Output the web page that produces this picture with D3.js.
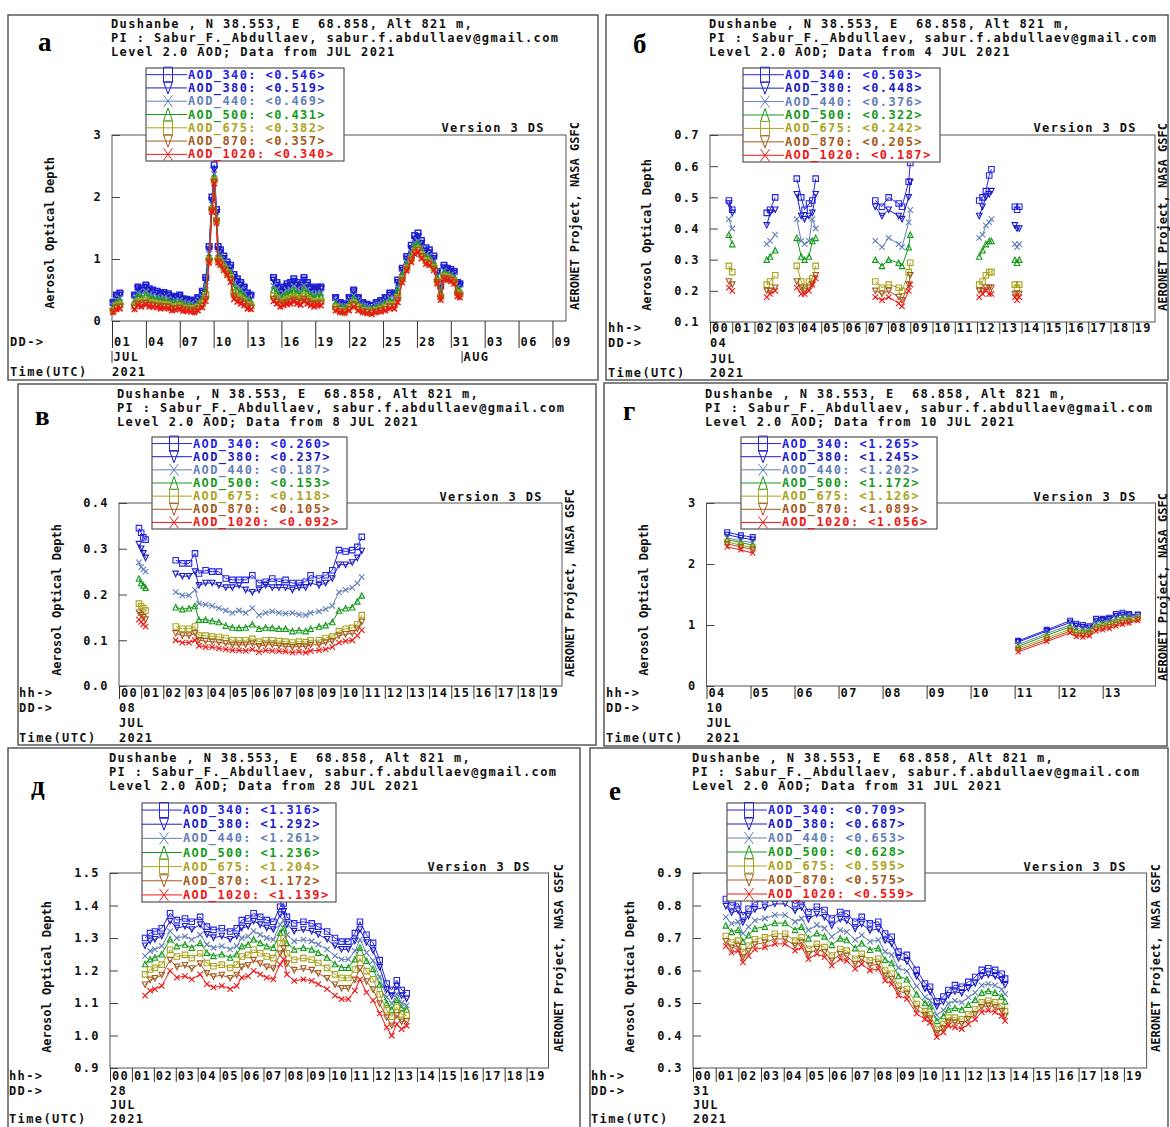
<!DOCTYPE html>
<html><head><meta charset="utf-8">
<script src="https://cdn.jsdelivr.net/npm/d3@7"></script>
<style>
html,body{margin:0;padding:0;background:#fff;}
svg{display:block;}
</style></head><body>
<svg id="c" width="1170" height="1127"></svg>
<script>
// ---------------- DATA ----------------
const WAVES = ["340","380","440","500","675","870","1020"];
const TITLE_1 = "Dushanbe , N 38.553, E  68.858, Alt 821 m,";
const TITLE_2 = "PI : Sabur_F._Abdullaev, sabur.f.abdullaev@gmail.com";
const FROM = ["JUL 2021","4 JUL 2021","8 JUL 2021","10 JUL 2021","28 JUL 2021","31 JUL 2021"];
const DAY_LABEL = [null,"04","08","10","28","31"];

const MEANS_A = ["0.546","0.519","0.469","0.431","0.382","0.357","0.340"];
const MEANS_B = ["0.503","0.448","0.376","0.322","0.242","0.205","0.187"];
const MEANS_V = ["0.260","0.237","0.187","0.153","0.118","0.105","0.092"];
const MEANS_G = ["1.265","1.245","1.202","1.172","1.126","1.089","1.056"];
const MEANS_D = ["1.316","1.292","1.261","1.236","1.204","1.172","1.139"];
const MEANS_E = ["0.709","0.687","0.653","0.628","0.595","0.575","0.559"];

const Y_TICKS_A = [0,1,2,3];
const Y_TICKS_B = [0.1,0.2,0.3,0.4,0.5,0.6,0.7];
const Y_TICKS_V = [0.0,0.1,0.2,0.3,0.4];
const Y_TICKS_G = [0,1,2,3];
const Y_TICKS_D = [0.9,1.0,1.1,1.2,1.3,1.4,1.5];
const Y_TICKS_E = [0.3,0.4,0.5,0.6,0.7,0.8,0.9];

const DAY_TICKS_A = [1,4,7,10,13,16,19,22,25,28,31,34,37,40];
const DAY_LABELS_A = ["01","04","07","10","13","16","19","22","25","28","31","03","06","09"];
const MONTH_POS_A = [1,32];
const MONTH_LABELS_A = ["JUL","AUG"];
const HOURS = [0,1,2,3,4,5,6,7,8,9,10,11,12,13,14,15,16,17,18,19];
const HOUR_LABELS = ["00","01","02","03","04","05","06","07","08","09","10","11","12","13","14","15","16","17","18","19"];
const HOURS_G = [4,5,6,7,8,9,10,11,12,13];
const HOUR_LABELS_G = ["04","05","06","07","08","09","10","11","12","13"];

// Panel а : July 2021 (day of month)
const A_T = [1.1,1.4,1.7,
 3.0,3.3,3.6,4.0,4.3,4.6,5.0,5.3,5.6,6.0,6.3,6.6,7.0,7.3,7.6,8.0,8.3,8.6,9.0,9.3,
 9.6,9.85,10.05,10.25,10.4,10.6,10.9,11.2,11.5,11.8,12.1,12.4,12.7,13.0,13.3,
 15.3,15.6,15.9,16.2,16.5,16.8,17.1,17.4,17.7,18.0,18.3,18.6,18.9,19.2,19.5,
 20.8,21.2,21.6,22.0,22.4,22.8,23.2,23.6,24.0,24.4,24.8,25.2,25.6,26.0,26.3,26.7,27.1,27.5,27.8,28.1,28.4,28.8,29.1,29.5,29.8,30.1,30.4,30.7,31.0,31.3,31.6,31.8];
const A_340 = [0.30,0.42,0.45,
 0.42,0.55,0.52,0.58,0.52,0.50,0.48,0.45,0.46,0.44,0.38,0.40,0.42,0.36,0.35,0.34,0.30,0.38,0.48,0.70,
 1.20,2.00,2.52,1.80,1.20,1.15,1.05,0.95,0.90,0.75,0.68,0.62,0.55,0.45,0.42,
 0.70,0.62,0.50,0.55,0.60,0.62,0.68,0.62,0.58,0.70,0.62,0.55,0.52,0.55,0.55,
 0.38,0.30,0.28,0.38,0.50,0.38,0.30,0.27,0.25,0.30,0.33,0.38,0.45,0.45,0.66,0.85,1.04,1.22,1.38,1.42,1.30,1.18,1.15,1.05,0.80,0.57,0.90,0.85,0.83,0.80,0.62,0.60];
const A_380 = [0.28,0.39,0.42,
 0.39,0.52,0.49,0.55,0.49,0.47,0.45,0.42,0.43,0.41,0.36,0.38,0.39,0.34,0.33,0.32,0.28,0.36,0.45,0.66,
 1.15,1.94,2.44,1.75,1.15,1.10,1.01,0.91,0.86,0.71,0.64,0.58,0.52,0.42,0.39,
 0.66,0.58,0.47,0.52,0.56,0.58,0.64,0.58,0.55,0.66,0.58,0.52,0.49,0.52,0.52,
 0.36,0.28,0.26,0.36,0.47,0.36,0.28,0.25,0.24,0.28,0.31,0.36,0.42,0.42,0.62,0.82,1.00,1.17,1.32,1.36,1.25,1.13,1.10,1.01,0.77,0.54,0.86,0.82,0.80,0.77,0.59,0.57];
const A_440 = [0.25,0.34,0.37,
 0.34,0.45,0.43,0.48,0.43,0.41,0.39,0.37,0.38,0.36,0.31,0.33,0.34,0.30,0.29,0.28,0.25,0.31,0.39,0.57,
 1.09,1.88,2.37,1.69,1.09,1.05,0.96,0.86,0.80,0.62,0.56,0.51,0.45,0.37,0.34,
 0.57,0.51,0.41,0.45,0.49,0.51,0.56,0.51,0.48,0.57,0.51,0.45,0.43,0.45,0.45,
 0.31,0.25,0.23,0.31,0.41,0.31,0.25,0.22,0.21,0.25,0.27,0.31,0.37,0.37,0.54,0.77,0.95,1.11,1.26,1.29,1.18,1.07,1.05,0.96,0.72,0.48,0.81,0.77,0.75,0.72,0.54,0.52];
const A_500 = [0.22,0.30,0.32,
 0.30,0.40,0.37,0.42,0.37,0.36,0.35,0.32,0.33,0.32,0.27,0.29,0.30,0.26,0.25,0.24,0.22,0.27,0.35,0.50,
 1.04,1.84,2.32,1.66,1.04,1.00,0.91,0.83,0.76,0.55,0.49,0.45,0.40,0.32,0.30,
 0.50,0.45,0.36,0.40,0.43,0.45,0.49,0.45,0.42,0.50,0.45,0.40,0.37,0.40,0.40,
 0.27,0.22,0.20,0.27,0.36,0.27,0.22,0.19,0.18,0.22,0.24,0.27,0.32,0.32,0.48,0.73,0.90,1.06,1.20,1.24,1.13,1.03,1.00,0.91,0.69,0.44,0.77,0.74,0.72,0.69,0.50,0.48];
const A_675 = [0.17,0.24,0.26,
 0.24,0.32,0.30,0.34,0.30,0.29,0.28,0.26,0.27,0.26,0.22,0.23,0.24,0.21,0.20,0.20,0.17,0.22,0.28,0.41,
 0.98,1.80,2.27,1.62,0.98,0.94,0.86,0.78,0.70,0.45,0.39,0.36,0.32,0.26,0.24,
 0.41,0.36,0.29,0.32,0.35,0.36,0.39,0.36,0.34,0.41,0.36,0.32,0.30,0.32,0.32,
 0.22,0.17,0.16,0.22,0.29,0.22,0.17,0.16,0.15,0.17,0.19,0.22,0.26,0.26,0.38,0.68,0.85,1.00,1.13,1.16,1.07,0.97,0.94,0.86,0.64,0.39,0.72,0.70,0.68,0.64,0.45,0.43];
const A_870 = [0.15,0.21,0.23,
 0.21,0.28,0.26,0.29,0.26,0.25,0.24,0.23,0.23,0.22,0.19,0.20,0.21,0.18,0.18,0.17,0.15,0.19,0.24,0.35,
 0.96,1.78,2.24,1.60,0.96,0.92,0.84,0.76,0.66,0.39,0.34,0.31,0.28,0.23,0.21,
 0.35,0.31,0.25,0.28,0.30,0.31,0.34,0.31,0.29,0.35,0.31,0.28,0.26,0.28,0.28,
 0.19,0.15,0.14,0.19,0.25,0.19,0.15,0.14,0.13,0.15,0.17,0.19,0.23,0.23,0.33,0.65,0.83,0.98,1.10,1.14,1.04,0.94,0.92,0.84,0.62,0.36,0.69,0.68,0.66,0.62,0.42,0.40];
const A_1020 = [0.14,0.19,0.20,
 0.19,0.25,0.23,0.26,0.23,0.23,0.22,0.20,0.21,0.20,0.17,0.18,0.19,0.16,0.16,0.15,0.14,0.17,0.22,0.32,
 0.94,1.76,2.22,1.58,0.94,0.90,0.82,0.74,0.63,0.35,0.31,0.28,0.25,0.20,0.19,
 0.32,0.28,0.23,0.25,0.27,0.28,0.31,0.28,0.26,0.32,0.28,0.25,0.23,0.25,0.25,
 0.17,0.14,0.13,0.17,0.23,0.17,0.14,0.12,0.11,0.14,0.15,0.17,0.20,0.20,0.30,0.62,0.81,0.95,1.08,1.11,1.01,0.92,0.90,0.82,0.60,0.34,0.67,0.66,0.64,0.60,0.40,0.38];

// Panel б : 4 JUL 2021 (hour UTC)
const B_T = [0.85,1.0, 2.55,2.7,2.93, 3.9,4.1,4.25,4.45,4.6,4.75, 7.43,7.73,8.03,8.48,8.63,8.93,9.0, 12.1,12.25,12.4,12.55,12.65, 13.7,13.8,13.9];
const B_340 = [0.49,0.46, 0.45,0.46,0.50, 0.56,0.50,0.46,0.48,0.49,0.56, 0.49,0.47,0.50,0.48,0.47,0.55,0.61, 0.49,0.50,0.52,0.57,0.59, 0.47,0.46,0.47];
const B_380 = [0.48,0.45, 0.41,0.45,0.46, 0.51,0.44,0.43,0.44,0.45,0.51, 0.47,0.44,0.46,0.44,0.43,0.50,0.55, 0.44,0.47,0.50,0.51,0.52, 0.41,0.40,0.40];
const B_440 = [0.43,0.40, 0.35,0.36,0.38, 0.43,0.36,0.35,0.36,0.43,0.40, 0.36,0.34,0.37,0.35,0.34,0.42,0.46, 0.37,0.38,0.41,0.42,0.43, 0.35,0.34,0.35];
const B_500 = [0.38,0.35, 0.30,0.31,0.33, 0.37,0.31,0.30,0.31,0.36,0.37, 0.30,0.28,0.30,0.29,0.28,0.34,0.38, 0.31,0.33,0.35,0.36,0.36, 0.30,0.29,0.30];
const B_675 = [0.28,0.26, 0.22,0.23,0.25, 0.28,0.23,0.21,0.23,0.24,0.28, 0.23,0.21,0.22,0.21,0.20,0.26,0.29, 0.22,0.23,0.25,0.26,0.26, 0.22,0.21,0.22];
const B_870 = [0.23,0.22, 0.20,0.20,0.21, 0.23,0.21,0.20,0.21,0.22,0.25, 0.20,0.19,0.20,0.18,0.17,0.22,0.25, 0.20,0.20,0.21,0.21,0.21, 0.19,0.19,0.19];
const B_1020 = [0.21,0.20, 0.18,0.19,0.20, 0.21,0.19,0.19,0.20,0.22,0.24, 0.18,0.17,0.18,0.16,0.15,0.20,0.22, 0.18,0.19,0.20,0.19,0.19, 0.18,0.17,0.18];

// Panel в : 8 JUL 2021
const V_T = [0.9,1.0,1.1,1.2,
 2.56,2.86,3.16,3.43,3.61,3.91,4.21,4.51,4.82,5.12,5.42,5.72,6.02,6.32,6.62,6.92,7.22,7.52,7.83,8.13,8.43,8.65,9.03,9.33,9.63,9.93,10.23,10.53,10.76,10.96];
const V_340 = [0.345,0.335,0.325,0.32,
 0.275,0.268,0.268,0.29,0.246,0.253,0.25,0.25,0.235,0.232,0.232,0.232,0.242,0.225,0.228,0.235,0.228,0.232,0.225,0.225,0.228,0.242,0.235,0.242,0.253,0.297,0.294,0.297,0.304,0.326];
const V_380 = [0.31,0.30,0.29,0.28,
 0.245,0.24,0.24,0.25,0.22,0.225,0.225,0.22,0.215,0.215,0.22,0.21,0.205,0.21,0.22,0.215,0.215,0.215,0.21,0.215,0.215,0.225,0.22,0.225,0.235,0.265,0.265,0.27,0.28,0.295];
const V_440 = [0.27,0.26,0.255,0.25,
 0.205,0.198,0.198,0.21,0.18,0.178,0.175,0.17,0.165,0.16,0.165,0.16,0.17,0.155,0.16,0.163,0.16,0.158,0.16,0.156,0.155,0.16,0.163,0.168,0.175,0.205,0.21,0.215,0.225,0.238];
const V_500 = [0.235,0.225,0.22,0.215,
 0.172,0.168,0.17,0.175,0.145,0.145,0.142,0.14,0.132,0.128,0.127,0.128,0.135,0.125,0.128,0.127,0.125,0.125,0.12,0.122,0.12,0.125,0.13,0.133,0.14,0.165,0.17,0.172,0.185,0.198];
const V_675 = [0.18,0.175,0.17,0.165,
 0.13,0.125,0.125,0.13,0.11,0.11,0.108,0.107,0.105,0.1,0.1,0.1,0.103,0.097,0.1,0.1,0.098,0.097,0.095,0.097,0.096,0.1,0.1,0.105,0.108,0.12,0.125,0.127,0.135,0.155];
const V_870 = [0.16,0.155,0.15,0.145,
 0.115,0.11,0.11,0.115,0.1,0.098,0.097,0.095,0.093,0.09,0.09,0.09,0.093,0.087,0.09,0.09,0.088,0.087,0.085,0.087,0.086,0.09,0.09,0.095,0.098,0.11,0.113,0.115,0.125,0.14];
const V_1020 = [0.145,0.14,0.135,0.13,
 0.1,0.095,0.095,0.1,0.088,0.085,0.085,0.082,0.08,0.078,0.078,0.077,0.08,0.074,0.078,0.077,0.076,0.075,0.073,0.075,0.073,0.077,0.078,0.08,0.085,0.095,0.098,0.1,0.11,0.122];

// Panel г : 10 JUL 2021
const G_T = [4.47,4.78,5.05, 11.08,11.73,12.26,12.4,12.55,12.7,12.85,13.0,13.15,13.3,13.45,13.6,13.8];
const G_340 = [2.52,2.47,2.44, 0.74,0.92,1.07,1.02,1.00,0.98,1.10,1.10,1.12,1.18,1.20,1.18,1.17];
const G_380 = [2.48,2.43,2.40, 0.72,0.90,1.04,0.99,0.97,0.96,1.07,1.08,1.10,1.15,1.17,1.16,1.16];
const G_440 = [2.43,2.38,2.35, 0.68,0.86,1.00,0.94,0.93,0.93,1.03,1.04,1.06,1.11,1.13,1.13,1.14];
const G_500 = [2.40,2.35,2.31, 0.65,0.83,0.97,0.91,0.90,0.91,1.00,1.02,1.04,1.08,1.11,1.11,1.13];
const G_675 = [2.36,2.31,2.27, 0.62,0.79,0.93,0.87,0.86,0.88,0.96,0.98,1.00,1.04,1.07,1.08,1.11];
const G_870 = [2.33,2.28,2.24, 0.59,0.76,0.90,0.84,0.83,0.85,0.93,0.95,0.97,1.01,1.04,1.05,1.09];
const G_1020 = [2.28,2.23,2.18, 0.56,0.73,0.87,0.81,0.80,0.82,0.90,0.92,0.94,0.98,1.01,1.03,1.07];

// Panel д : 28 JUL 2021
const D_T = [1.6,1.83,2.05,2.36,2.74,3.05,3.42,3.73,4.11,4.42,4.72,5.10,5.48,5.78,6.01,6.30,6.55,6.85,7.15,7.45,7.76,7.92,8.07,8.40,8.82,9.20,9.50,9.90,10.26,10.56,10.87,11.17,11.40,11.70,12.00,12.30,12.62,12.85,13.08,13.30,13.53];
const D_340 = [1.300,1.315,1.320,1.330,1.376,1.355,1.360,1.350,1.365,1.335,1.325,1.330,1.320,1.330,1.355,1.360,1.376,1.365,1.355,1.350,1.396,1.406,1.365,1.345,1.350,1.345,1.335,1.320,1.300,1.289,1.289,1.315,1.350,1.310,1.285,1.232,1.160,1.140,1.170,1.140,1.130];
const D_380 = [1.276,1.291,1.296,1.306,1.352,1.331,1.336,1.326,1.341,1.311,1.301,1.306,1.296,1.306,1.331,1.336,1.352,1.341,1.331,1.326,1.372,1.382,1.341,1.321,1.326,1.321,1.311,1.296,1.276,1.265,1.265,1.291,1.326,1.286,1.261,1.210,1.141,1.121,1.151,1.122,1.113];
const D_440 = [1.245,1.260,1.265,1.275,1.321,1.300,1.305,1.295,1.310,1.280,1.270,1.275,1.265,1.275,1.300,1.305,1.321,1.310,1.300,1.295,1.341,1.355,1.310,1.290,1.295,1.290,1.280,1.265,1.245,1.234,1.234,1.260,1.295,1.255,1.230,1.180,1.118,1.098,1.128,1.100,1.093];
const D_500 = [1.220,1.235,1.240,1.250,1.296,1.275,1.280,1.270,1.285,1.255,1.245,1.250,1.240,1.250,1.275,1.280,1.296,1.285,1.275,1.270,1.316,1.330,1.285,1.265,1.270,1.265,1.255,1.240,1.220,1.209,1.209,1.235,1.270,1.230,1.205,1.157,1.100,1.080,1.110,1.085,1.080];
const D_675 = [1.188,1.203,1.208,1.218,1.264,1.243,1.248,1.238,1.253,1.223,1.213,1.218,1.208,1.218,1.243,1.248,1.264,1.253,1.243,1.238,1.284,1.300,1.253,1.233,1.238,1.233,1.223,1.208,1.188,1.177,1.177,1.203,1.238,1.198,1.173,1.127,1.078,1.058,1.088,1.065,1.062];
const D_870 = [1.156,1.171,1.176,1.186,1.232,1.211,1.216,1.206,1.221,1.191,1.181,1.186,1.176,1.186,1.211,1.216,1.232,1.221,1.211,1.206,1.252,1.268,1.221,1.201,1.206,1.201,1.191,1.176,1.156,1.145,1.145,1.171,1.206,1.166,1.141,1.098,1.055,1.030,1.062,1.042,1.043];
const D_1020 = [1.123,1.138,1.143,1.153,1.199,1.178,1.183,1.173,1.188,1.158,1.148,1.153,1.143,1.153,1.178,1.183,1.199,1.188,1.178,1.173,1.219,1.235,1.188,1.168,1.173,1.168,1.158,1.143,1.123,1.112,1.112,1.138,1.173,1.133,1.108,1.068,1.025,1.000,1.035,1.020,1.030];

// Panel е : 31 JUL 2021
const E_T = [1.45,1.70,1.99,2.20,2.45,2.73,3.17,3.61,4.06,4.50,4.79,5.09,5.46,5.80,6.12,6.49,6.78,7.15,7.44,7.80,8.17,8.47,8.76,9.06,9.43,9.86,10.23,10.45,10.75,11.04,11.26,11.55,11.85,12.14,12.44,12.73,13.02,13.32,13.61,13.76];
const E_340 = [0.820,0.800,0.806,0.770,0.790,0.810,0.816,0.827,0.827,0.806,0.816,0.780,0.796,0.786,0.760,0.780,0.775,0.750,0.765,0.745,0.750,0.714,0.704,0.658,0.648,0.602,0.560,0.550,0.505,0.520,0.540,0.555,0.550,0.565,0.580,0.602,0.607,0.602,0.590,0.575];
const E_380 = [0.798,0.778,0.784,0.748,0.768,0.788,0.794,0.805,0.805,0.784,0.794,0.758,0.774,0.764,0.738,0.758,0.753,0.728,0.743,0.723,0.728,0.692,0.682,0.638,0.628,0.582,0.544,0.534,0.489,0.504,0.524,0.535,0.530,0.545,0.560,0.582,0.587,0.582,0.570,0.555];
const E_440 = [0.764,0.744,0.750,0.714,0.734,0.754,0.760,0.771,0.771,0.750,0.760,0.724,0.740,0.730,0.704,0.724,0.719,0.694,0.709,0.689,0.694,0.658,0.648,0.608,0.598,0.552,0.518,0.508,0.463,0.478,0.498,0.507,0.502,0.517,0.532,0.554,0.559,0.554,0.542,0.527];
const E_500 = [0.739,0.719,0.725,0.689,0.709,0.729,0.735,0.746,0.746,0.725,0.735,0.699,0.715,0.705,0.679,0.699,0.694,0.669,0.684,0.664,0.669,0.633,0.623,0.583,0.573,0.527,0.500,0.490,0.445,0.460,0.480,0.485,0.480,0.495,0.510,0.532,0.537,0.532,0.520,0.505];
const E_675 = [0.706,0.686,0.692,0.656,0.676,0.696,0.702,0.713,0.713,0.692,0.702,0.666,0.682,0.672,0.646,0.666,0.661,0.636,0.651,0.631,0.636,0.600,0.590,0.553,0.543,0.497,0.475,0.465,0.420,0.435,0.455,0.455,0.450,0.465,0.480,0.502,0.507,0.502,0.490,0.475];
const E_870 = [0.690,0.670,0.676,0.640,0.660,0.680,0.686,0.697,0.697,0.676,0.686,0.650,0.666,0.656,0.630,0.650,0.645,0.620,0.635,0.615,0.620,0.584,0.574,0.538,0.528,0.482,0.462,0.452,0.407,0.422,0.442,0.440,0.435,0.450,0.465,0.487,0.492,0.487,0.475,0.460];
const E_1020 = [0.675,0.655,0.661,0.625,0.645,0.665,0.671,0.682,0.682,0.661,0.671,0.635,0.651,0.641,0.615,0.635,0.630,0.605,0.620,0.600,0.605,0.569,0.559,0.523,0.513,0.467,0.450,0.440,0.395,0.410,0.430,0.425,0.420,0.435,0.450,0.472,0.477,0.472,0.460,0.445];

// ---------------- STYLE ----------------
const COLORS = ["#2424e4","#1c1cc4","#6480b8","#169a1c","#aaa41e","#a45a1e","#f01616"];
const SHAPES = ["square","triDown","cross","triUp","square","triDown","cross"];
const LEG_SIZE = [[9,15],[9,12],[9,12],[9,13],[9,14],[9,12],[9,12]];
const MONO = "'DejaVu Sans Mono', monospace";
const FS = 12, LS = 1.4;

const PANELS = [
 { letter:"а", from:FROM[0], day:DAY_LABEL[0], means:MEANS_A, T:A_T, S:[A_340,A_380,A_440,A_500,A_675,A_870,A_1020],
   xDomain:[1,41.2], yDomain:[0,3], yTicks:Y_TICKS_A, yFmt:"d", xTicks:DAY_TICKS_A, xLabels:DAY_LABELS_A, gap:1.0, daily:true,
   mk:5.5, mkw:1.5,
   frame:[8,15,598,380], plot:[112,135,566,321], titleX:111, titleY:[24,38,52], letterXY:[38,51],
   legend:[146,68,344,161], legendTextX:188, version:[545,128], aero:[575,216], ylab:[50,233], leftX:10, rows:[null,342,357,372] },
 { letter:"б", from:FROM[1], day:DAY_LABEL[1], means:MEANS_B, T:B_T, S:[B_340,B_380,B_440,B_500,B_675,B_870,B_1020],
   xDomain:[0,20], yDomain:[0.1,0.7], yTicks:Y_TICKS_B, yFmt:".1f", xTicks:HOURS, xLabels:HOUR_LABELS, gap:0.6,
   mk:5.5, mkw:1.1,
   frame:[606,15,1168,380], plot:[710,135,1155,322], titleX:709, titleY:[24,38,52], letterXY:[633,53],
   legend:[743,68,940,162], legendTextX:785, version:[1137,128], aero:[1163,217], ylab:[647,235], leftX:608, rows:[328,343,359,373] },
 { letter:"в", from:FROM[2], day:DAY_LABEL[2], means:MEANS_V, T:V_T, S:[V_340,V_380,V_440,V_500,V_675,V_870,V_1020],
   xDomain:[0,20], yDomain:[0,0.4], yTicks:Y_TICKS_V, yFmt:".1f", xTicks:HOURS, xLabels:HOUR_LABELS, gap:0.6,
   mk:5.5, mkw:1.1,
   frame:[18,384,596,745], plot:[119,503,562,686], titleX:117, titleY:[394,408,422], letterXY:[35,425],
   legend:[152,437,347,529], legendTextX:193, version:[543,497], aero:[570,583], ylab:[57,600], leftX:19, rows:[693,708,723,738] },
 { letter:"г", from:FROM[3], day:DAY_LABEL[3], means:MEANS_G, T:G_T, S:[G_340,G_380,G_440,G_500,G_675,G_870,G_1020],
   xDomain:[4,14.2], yDomain:[0,3], yTicks:Y_TICKS_G, yFmt:"d", xTicks:HOURS_G, xLabels:HOUR_LABELS_G, gap:1.5,
   mk:5, mkw:1.1,
   frame:[604,383,1167,746], plot:[706.5,503,1155.5,686], titleX:705, titleY:[394,408,422], letterXY:[623,420],
   legend:[741,437,937,529], legendTextX:782, version:[1137,497], aero:[1163,587], ylab:[644,600], leftX:606, rows:[693,708,723,738] },
 { letter:"д", from:FROM[4], day:DAY_LABEL[4], means:MEANS_D, T:D_T, S:[D_340,D_380,D_440,D_500,D_675,D_870,D_1020],
   xDomain:[0,20], yDomain:[0.9,1.5], yTicks:Y_TICKS_D, yFmt:".1f", xTicks:HOURS, xLabels:HOUR_LABELS, gap:0.6,
   mk:5.5, mkw:1.1,
   frame:[8,748,580,1140], plot:[110,873,548.5,1068], titleX:109, titleY:[758,772,786], letterXY:[31,795],
   legend:[142,803,336,902], legendTextX:183, version:[531,867], aero:[559,958], ylab:[47,977], leftX:9, rows:[1076,1091,1105,1119] },
 { letter:"е", from:FROM[5], day:DAY_LABEL[5], means:MEANS_E, T:E_T, S:[E_340,E_380,E_440,E_500,E_675,E_870,E_1020],
   xDomain:[0,20], yDomain:[0.3,0.9], yTicks:Y_TICKS_E, yFmt:".1f", xTicks:HOURS, xLabels:HOUR_LABELS, gap:0.6,
   mk:5.5, mkw:1.1,
   frame:[590,748,1168,1140], plot:[693,873,1146.6,1068], titleX:692, titleY:[758,772,786], letterXY:[609,800],
   legend:[727,803,925,901], legendTextX:768, version:[1127,867], aero:[1156,958], ylab:[630,977], leftX:591, rows:[1076,1091,1105,1119] }
];

// ---------------- DRAW ----------------
const svg = d3.select("#c");
svg.append("rect").attr("width",1170).attr("height",1127).attr("fill","#fff");

function shapePath(type, w, h) {
  const a = w/2, b = h/2;
  switch (type) {
    case "square": return `M${-a},${-b}H${a}V${b}H${-a}Z`;
    case "triDown": return `M${-a},${-b}H${a}L0,${b}Z`;
    case "triUp": return `M${-a},${b}H${a}L0,${-b}Z`;
    default: return `M${-a},${-b}L${a},${b}M${a},${-b}L${-a},${b}`;
  }
}

function addText(g, x, y, s, o = {}) {
  const t = g.append("text")
    .attr("x", x).attr("y", y)
    .attr("font-family", o.family || MONO)
    .attr("font-weight", "bold")
    .attr("font-size", o.size || FS)
    .attr("letter-spacing", o.ls != null ? o.ls : LS)
    .attr("fill", o.fill || "#111")
    .attr("dominant-baseline", o.baseline || "central")
    .attr("text-anchor", o.anchor || "start")
    .style("white-space", "pre")
    .text(s);
  if (o.rotate) t.attr("transform", `rotate(${o.rotate},${x},${y})`);
  return t;
}

function drawPanel(P) {
  const g = svg.append("g");
  const [fx1, fy1, fx2, fy2] = P.frame;
  g.append("rect").attr("x", fx1).attr("y", fy1).attr("width", fx2 - fx1).attr("height", fy2 - fy1)
    .attr("fill", "none").attr("stroke", "#5a5a5a").attr("stroke-width", 1.5);

  const [px1, py1, px2, py2] = P.plot;
  const x = d3.scaleLinear().domain(P.xDomain).range([px1, px2]);
  const y = d3.scaleLinear().domain(P.yDomain).range([py2, py1]);

  addText(g, P.titleX, P.titleY[0], TITLE_1);
  addText(g, P.titleX, P.titleY[1], TITLE_2);
  addText(g, P.titleX, P.titleY[2], "Level 2.0 AOD; Data from " + P.from);

  addText(g, P.letterXY[0], P.letterXY[1], P.letter,
    { family: "'Liberation Serif','Times New Roman',serif", size: 27, ls: 0, baseline: "alphabetic", fill: "#000" });

  g.append("rect").attr("x", px1).attr("y", py1).attr("width", px2 - px1).attr("height", py2 - py1)
    .attr("fill", "none").attr("stroke", "#555").attr("stroke-width", 1);

  const ya = g.append("g").attr("transform", `translate(${px1},0)`)
    .call(d3.axisLeft(y).tickValues(P.yTicks).tickFormat(d3.format(P.yFmt))
      .tickSizeInner(-8).tickSizeOuter(0).tickPadding(10));
  ya.select(".domain").remove();
  ya.selectAll(".tick line").attr("stroke", "#444");
  ya.selectAll(".tick text").attr("font-family", MONO).attr("font-weight", "bold")
    .attr("font-size", FS).attr("letter-spacing", LS).attr("fill", "#111").attr("dy", "0.32em");

  const labelRow = P.daily ? P.rows[1] : P.rows[0];
  const tickLen = labelRow + 6 - py2;
  const xa = g.append("g").attr("transform", `translate(0,${py2})`)
    .call(d3.axisBottom(x).tickValues(P.xTicks).tickFormat((d, i) => P.xLabels[i])
      .tickSizeInner(tickLen).tickSizeOuter(0));
  xa.select(".domain").remove();
  xa.selectAll(".tick line").attr("stroke", "#333");
  xa.selectAll(".tick text").attr("font-family", MONO).attr("font-weight", "bold")
    .attr("font-size", FS).attr("letter-spacing", LS).attr("fill", "#111")
    .attr("text-anchor", "start").attr("x", 1.5).attr("y", labelRow - py2).attr("dy", "0.35em");

  if (P.daily) {
    addText(g, P.leftX, P.rows[1], "DD->");
    MONTH_POS_A.forEach((m, i) => {
      g.append("line").attr("x1", x(m)).attr("x2", x(m)).attr("y1", P.rows[2] - 6).attr("y2", P.rows[2] + 6)
        .attr("stroke", "#333");
      addText(g, x(m) + 1.5, P.rows[2], MONTH_LABELS_A[i]);
    });
  } else {
    addText(g, P.leftX, P.rows[0], "hh->");
    addText(g, P.leftX, P.rows[1], "DD->");
    addText(g, px1, P.rows[1], P.day);
    addText(g, px1, P.rows[2], "JUL");
  }
  addText(g, P.leftX, P.rows[3], "Time(UTC)");
  addText(g, px1, P.rows[3], "2021");

  addText(g, P.ylab[0], P.ylab[1], "Aerosol Optical Depth", { anchor: "middle", rotate: -90, size: 12, ls: 0 });
  addText(g, P.aero[0], P.aero[1], "AERONET Project, NASA GSFC", { anchor: "middle", rotate: -90, size: 12, ls: 0 });
  addText(g, P.version[0], P.version[1], "Version 3 DS", { anchor: "end" });

  const n = P.T.length;
  const dg = g.append("g");
  P.S.forEach((vals, i) => {
    const pts = [];
    for (let k = 0; k < Math.min(n, vals.length); k++) {
      if (k > 0 && P.T[k] - P.T[k - 1] > P.gap) pts.push(null);
      pts.push({ t: P.T[k], v: vals[k] });
    }
    const line = d3.line().defined(d => d !== null).x(d => x(d.t)).y(d => y(d.v));
    dg.append("path").attr("d", line(pts)).attr("fill", "none")
      .attr("stroke", COLORS[i]).attr("stroke-width", 1);
    dg.append("g").selectAll("path").data(pts.filter(d => d)).enter().append("path")
      .attr("transform", d => `translate(${x(d.t)},${y(d.v)})`)
      .attr("d", shapePath(SHAPES[i], P.mk, P.mk))
      .attr("fill", "none").attr("stroke", COLORS[i]).attr("stroke-width", P.mkw);
  });

  const [lx1, ly1, lx2, ly2] = P.legend;
  const lg = g.append("g");
  lg.append("rect").attr("x", lx1).attr("y", ly1).attr("width", lx2 - lx1).attr("height", ly2 - ly1)
    .attr("fill", "#fff").attr("stroke", "#555").attr("stroke-width", 1.2);
  const rowH = (ly2 - ly1) / WAVES.length;
  WAVES.forEach((w, i) => {
    const cy = ly1 + rowH * (i + 0.5);
    lg.append("line").attr("x1", lx1).attr("x2", P.legendTextX - 1).attr("y1", cy).attr("y2", cy)
      .attr("stroke", COLORS[i]).attr("stroke-width", 1);
    lg.append("path").attr("transform", `translate(${lx1 + 22},${cy})`)
      .attr("d", shapePath(SHAPES[i], LEG_SIZE[i][0], LEG_SIZE[i][1]))
      .attr("fill", "none").attr("stroke", COLORS[i]).attr("stroke-width", 1);
    addText(lg, P.legendTextX, cy, `AOD_${w}: <${P.means[i]}>`, { fill: COLORS[i] });
  });
}

PANELS.forEach(drawPanel);
</script>
</body></html>
